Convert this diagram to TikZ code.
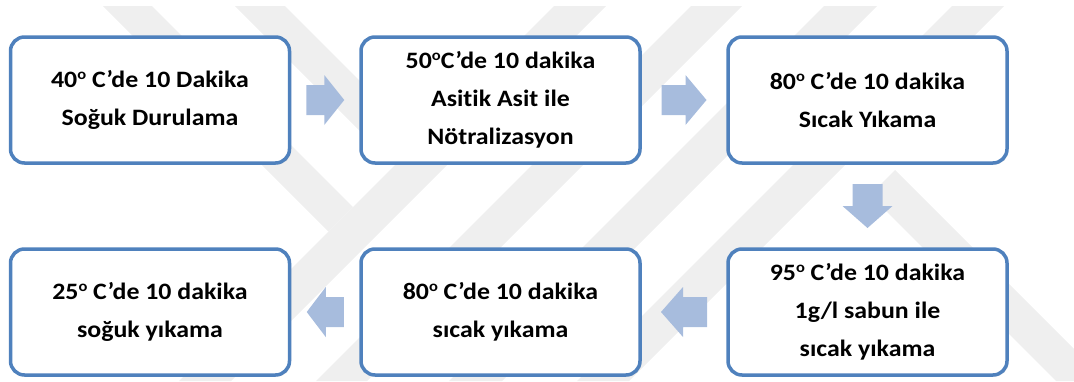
\documentclass[tikz,border=0pt]{standalone}
\usepackage{fontspec}
\newfontfamily\boxfont{Carlito}[FakeStretch=1.10, Ligatures=CommonOff]
\usetikzlibrary{calc,shadows}
\definecolor{boxblue}{RGB}{79,129,189}
\definecolor{arrowblue}{RGB}{167,188,221}
\definecolor{markgray}{RGB}{239,239,239}
% small raised "o" used as the degree mark
\newcommand\dg{\raisebox{8pt}{\fontsize{15}{15}\selectfont o}}
\tikzset{
  stepbox/.style={draw=boxblue, line width=3.5pt, fill=white, rounded corners=14pt,
    minimum width=279pt, minimum height=126pt, align=center, inner sep=0pt,
    font=\boxfont\bfseries\fontsize{23.5}{38}\selectfont,
    drop shadow={opacity=0.18, shadow xshift=1.5pt, shadow yshift=-1.5pt}},
  blockarrow/.style={fill=arrowblue, draw=none},
  band/.style={fill=markgray, draw=none}
}
% block arrow centred between two anchors: #3 angle, #4 length, #5 head length
\newcommand\flowarrow[5]{%
  \fill[blockarrow, shift={($(#1)!0.5!(#2)$)}, rotate=#3]
    (-#4/2,-15) -- (#4/2-#5,-15) -- (#4/2-#5,-25) -- (#4/2,0)
    -- (#4/2-#5,25) -- (#4/2-#5,15) -- (-#4/2,15) -- cycle;}
\begin{document}
\begin{tikzpicture}[x=1pt, y=-1pt]
\useasboundingbox (0,0) rectangle (1074,381);
% faint background emblem
\begin{scope}
  \clip (0,6) rectangle (1074,381);
  \fill[band] (97,0) -- (146,0) -- (353,207) -- (328.5,231.5) -- cycle;
  \fill[band] (229,0) -- (279,0) -- (419,140) -- (394,165) -- cycle;
  \fill[band] (560,0) -- (612,0) -- (231,381) -- (179,381) -- cycle;
  \fill[band] (697,0) -- (748,0) -- (367,381) -- (316,381) -- cycle;
  \fill[band] (830,0) -- (883,0) -- (502,381) -- (449,381) -- cycle;
  \fill[band] (958,0) -- (1010,0) -- (629,381) -- (577,381) -- cycle;
  \fill[band] (870,195) -- (895,170) -- (1106,381) -- (1056,381) -- cycle;
\end{scope}
% process steps
\node[stepbox] (b1) at (150,100) {40\dg{} C’de 10 Dakika\\Soğuk Durulama};
\node[stepbox] (b2) at (500.5,100) {50\dg C’de 10 dakika\\Asitik Asit ile\\Nötralizasyon};
\node[stepbox] (b3) at (867.5,100) {80\dg{} C’de 10 dakika\\Sıcak Yıkama};
\node[stepbox] (b4) at (867.5,312) {95\dg{} C’de 10 dakika\\1g/l sabun ile\\sıcak yıkama};
\node[stepbox] (b5) at (500.5,312) {80\dg{} C’de 10 dakika\\sıcak yıkama};
\node[stepbox] (b6) at (150,312) {25\dg{} C’de 10 dakika\\soğuk yıkama};
% flow arrows
\flowarrow{b1.east}{b2.west}{0}{38}{20}
\flowarrow{b2.east}{b3.west}{0}{45}{21}
\flowarrow{b3.south}{b4.north}{-90}{44}{22}
\flowarrow{b4.west}{b5.east}{180}{46}{22}
\flowarrow{b5.west}{b6.east}{180}{37}{19}
\end{tikzpicture}
\end{document}
